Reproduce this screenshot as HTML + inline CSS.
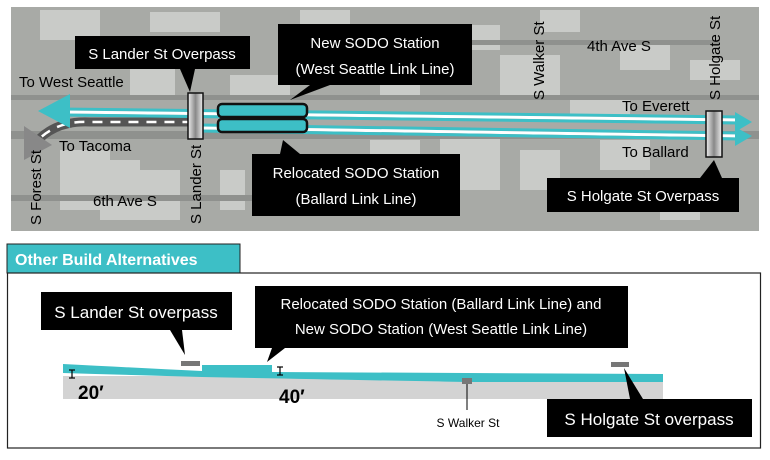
<!DOCTYPE html>
<html><head><meta charset="utf-8"><style>
html,body{margin:0;padding:0;background:#fff}
text{font-family:"Liberation Sans",sans-serif}
</style></head><body>
<svg width="770" height="455" viewBox="0 0 770 455" xmlns="http://www.w3.org/2000/svg">
<defs>
<linearGradient id="ov" x1="0" x2="1"><stop offset="0" stop-color="#eee"/><stop offset=".5" stop-color="#888"/><stop offset="1" stop-color="#eee"/></linearGradient>
</defs>
<rect x="11" y="7" width="748" height="224" fill="#a8aaa6"/>
<g fill="#c9cbc8">
<rect x="40" y="10" width="60" height="30"/><rect x="150" y="12" width="70" height="20"/><rect x="300" y="10" width="50" height="18"/>
<rect x="130" y="60" width="45" height="35"/><rect x="230" y="75" width="60" height="25"/><rect x="380" y="70" width="40" height="30"/>
<rect x="500" y="55" width="60" height="40"/><rect x="570" y="95" width="60" height="20"/><rect x="620" y="40" width="50" height="30"/>
<rect x="690" y="60" width="50" height="20"/><rect x="440" y="135" width="60" height="55"/><rect x="370" y="140" width="50" height="50"/>
<rect x="520" y="150" width="40" height="40"/><rect x="60" y="150" width="50" height="60"/><rect x="100" y="160" width="40" height="60"/>
<rect x="140" y="170" width="40" height="50"/><rect x="220" y="170" width="25" height="40"/><rect x="600" y="140" width="50" height="30"/>
<rect x="440" y="25" width="60" height="25"/><rect x="540" y="10" width="40" height="22"/><rect x="660" y="180" width="40" height="40"/>
</g>
<g fill="#8f918e">
<rect x="11" y="95" width="748" height="5"/><rect x="11" y="131" width="748" height="8"/>
<rect x="11" y="195" width="300" height="6"/><rect x="420" y="40" width="300" height="5"/>
</g>
<path d="M30 150 Q50 120 90 122 L188 122" stroke="#555" stroke-width="9" fill="none"/>
<path d="M30 150 Q50 120 90 122 L188 122" stroke="#fff" stroke-width="2.5" stroke-dasharray="10 8" fill="none"/>
<polygon points="24,126 52,145 24,160" fill="#888"/>
<g stroke-width="3" fill="none">
<path d="M60 109 L740 117" stroke="#3dbfc6"/><path d="M60 112 L740 120" stroke="#fff"/>
<path d="M60 115 L740 123" stroke="#3dbfc6"/>
<path d="M200 125 L740 133" stroke="#3dbfc6"/><path d="M200 128 L740 136" stroke="#fff"/>
<path d="M200 131 L740 139" stroke="#3dbfc6"/>
</g>
<polygon points="38,111 70,94 70,128" fill="#3dbfc6"/>
<polygon points="752,122 735,112 735,132" fill="#3dbfc6"/>
<polygon points="752,136 735,127 735,146" fill="#3dbfc6"/>
<rect x="188" y="93" width="15" height="46" fill="url(#ov)" stroke="#111" stroke-width="1.5"/>
<rect x="706" y="111" width="16" height="46" fill="url(#ov)" stroke="#111" stroke-width="1.5"/>
<rect x="218" y="104" width="89" height="13" rx="4" fill="#3dbfc6" stroke="#111" stroke-width="2.5"/>
<rect x="218" y="119" width="89" height="13" rx="4" fill="#3dbfc6" stroke="#111" stroke-width="2.5"/>
<g fill="#000">
<rect x="75" y="36" width="175" height="33"/><polygon points="180,69 195,69 190,92"/>
<rect x="278" y="24" width="194" height="61"/><polygon points="310,85 290,100 330,85"/>
<rect x="252" y="154" width="208" height="62"/><polygon points="280,154 300,154 283,140"/>
<rect x="547" y="178" width="192" height="34"/><polygon points="700,178 722,178 714,160"/>
</g>
<g fill="#fff" font-size="15">
<text x="162" y="59" text-anchor="middle">S Lander St Overpass</text>
<text x="375" y="48" text-anchor="middle">New SODO Station</text>
<text x="375" y="74" text-anchor="middle">(West Seattle Link Line)</text>
<text x="356" y="178" text-anchor="middle">Relocated SODO Station</text>
<text x="356" y="204" text-anchor="middle">(Ballard Link Line)</text>
<text x="643" y="201" text-anchor="middle">S Holgate St Overpass</text>
</g>
<g fill="#000" font-size="15">
<text x="19" y="87">To West Seattle</text>
<text x="59" y="151">To Tacoma</text>
<text x="93" y="206">6th Ave S</text>
<text x="587" y="51">4th Ave S</text>
<text x="622" y="111">To Everett</text>
<text x="622" y="157">To Ballard</text>
<text transform="translate(41,225) rotate(-90)">S Forest St</text>
<text transform="translate(201,224) rotate(-90)">S Lander St</text>
<text transform="translate(544,100) rotate(-90)">S Walker St</text>
<text transform="translate(720,100) rotate(-90)">S Holgate St</text>
</g>
<rect x="7" y="244" width="233" height="29" fill="#3dbfc6" stroke="#222" stroke-width="1"/>
<text x="15" y="265" font-size="16" fill="#fff" font-weight="bold">Other Build Alternatives</text>
<rect x="7.5" y="273" width="753" height="175" fill="#fff" stroke="#222" stroke-width="1.2"/>
<rect x="63" y="376" width="600" height="23" fill="#d3d3d3"/>
<path d="M63 364 Q140 368 202 371 L202 365 L272 365 L272 372 L663 374 L663 382 Q560 382 467 382 Q300 379 202 377 Q130 375 63 373 Z" fill="#3dbfc6"/>
<rect x="181" y="361" width="19" height="5" fill="#777"/>
<rect x="611" y="362" width="18" height="5" fill="#777"/>
<rect x="462" y="378" width="10" height="6" fill="#777"/>
<line x1="467" y1="384" x2="467" y2="410" stroke="#000" stroke-width="1"/>
<g stroke="#000" stroke-width="1.2"><line x1="72" y1="370" x2="72" y2="378"/><line x1="69" y1="370" x2="75" y2="370"/><line x1="69" y1="378" x2="75" y2="378"/>
<line x1="280" y1="367" x2="280" y2="375"/><line x1="277" y1="367" x2="283" y2="367"/><line x1="277" y1="375" x2="283" y2="375"/></g>
<text x="78" y="399" font-size="19" font-weight="bold">20′</text>
<text x="279" y="403" font-size="19" font-weight="bold">40′</text>
<text x="468" y="427" font-size="12" text-anchor="middle">S Walker St</text>
<g fill="#000">
<rect x="41" y="292" width="191" height="38"/><polygon points="170,330 182,330 185,355"/>
<rect x="255" y="286" width="373" height="62"/><polygon points="272,348 285,348 267,362"/>
<rect x="547" y="399" width="205" height="38"/><polygon points="630,399 643,399 624,368"/>
</g>
<g fill="#fff">
<text x="136" y="318" font-size="17" text-anchor="middle">S Lander St overpass</text>
<text x="441" y="309" font-size="15" text-anchor="middle">Relocated SODO Station (Ballard Link Line) and</text>
<text x="441" y="334" font-size="15" text-anchor="middle">New SODO Station (West Seattle Link Line)</text>
<text x="649" y="425" font-size="17" text-anchor="middle">S Holgate St overpass</text>
</g>
</svg>
</body></html>
